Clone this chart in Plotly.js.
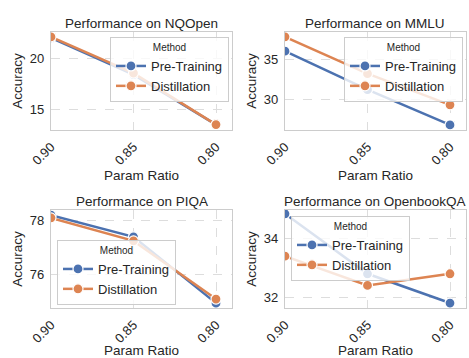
<!DOCTYPE html>
<html>
<head>
<meta charset="utf-8">
<script src="https://cdn.plot.ly/plotly-3.0.1.min.js"></script>
<style>html,body{margin:0;padding:0;background:#fff;}#chart{width:469px;height:358px;}</style>
</head>
<body>
<div id="chart"></div>
<script>
const ratios = [0.90, 0.85, 0.80];
const tickLabels = ["0.90", "0.85", "0.80"];
const methods = ["Pre-Training", "Distillation"];
const tasks = ["NQOpen", "MMLU", "PIQA", "OpenbookQA"];
const nqPre = [22.0, 18.4, 13.5];
const nqDist = [22.1, 18.55, 13.5];
const mmluPre = [36.0, 31.2, 26.8];
const mmluDist = [37.8, 33.2, 29.3];
const piqaPre = [78.2, 77.4, 74.95];
const piqaDist = [78.1, 77.25, 75.1];
const obqaPre = [34.85, 32.8, 31.8];
const obqaDist = [33.4, 32.4, 32.8];

const colors = ["#4C72B0", "#DD8452"];
const series = [[nqPre, nqDist], [mmluPre, mmluDist], [piqaPre, piqaDist], [obqaPre, obqaDist]];
const yRanges = [[12.97, 22.58], [26.16, 38.4], [74.77, 78.39], [31.63, 34.98]];
const yDtick = [5, 5, 2, 2];
const legendPos = [
  {x: 229/469, y: 1 - 37/358, xanchor: "right", yanchor: "top"},
  {x: 463/469, y: 1 - 37/358, xanchor: "right", yanchor: "top"},
  {x: 57/469, y: 1 - 240/358, xanchor: "left", yanchor: "top"},
  {x: 291/469, y: 1 - 216/358, xanchor: "left", yanchor: "top"}
];
const xDom = [[51/469, 232/469], [285/469, 466/469]];
const yDom = [[(358-130)/358, (358-32)/358], [(358-308)/358, (358-210)/358]];
const txt = "#262626";
const font = "Liberation Sans, Arial, sans-serif";

const data = [];
const layout = {
  width: 469, height: 358,
  margin: {l: 0, r: 0, t: 0, b: 0},
  paper_bgcolor: "#fff", plot_bgcolor: "#fff",
  font: {family: font, color: txt, size: 13},
  annotations: []
};

series.forEach((s, i) => {
  const ax = i === 0 ? "" : String(i + 1);
  const leg = i === 0 ? "legend" : "legend" + (i + 1);
  s.forEach((vals, j) => {
    data.push({
      type: "scatter", mode: "lines+markers",
      x: ratios, y: vals, name: methods[j],
      xaxis: "x" + ax, yaxis: "y" + ax, legend: leg,
      line: {color: colors[j], width: 2.5},
      marker: {color: colors[j], size: 10, line: {color: "#fff", width: 1.2}},
      cliponaxis: true
    });
  });
  const col = i % 2, row = Math.floor(i / 2);
  const axisCommon = {
    showline: true, mirror: true, linecolor: "#cccccc", linewidth: 1.2,
    showgrid: true, gridcolor: "#dddddd", griddash: "dash", gridwidth: 1,
    zeroline: false, ticks: "", tickfont: {size: 13, color: txt}
  };
  layout["xaxis" + ax] = Object.assign({}, axisCommon, {
    domain: xDom[col], anchor: "y" + ax,
    range: [0.90, 0.7903], tickvals: ratios, ticktext: tickLabels, tickangle: -45,
    ticklabelstandoff: 3,
    title: {text: "Param Ratio", font: {size: 13.5, color: txt}, standoff: 2}
  });
  layout["yaxis" + ax] = Object.assign({}, axisCommon, {
    domain: yDom[row], anchor: "x" + ax,
    range: yRanges[i], dtick: yDtick[i], tick0: 0,
    ticklabelstandoff: 3,
    title: {text: "Accuracy", font: {size: 13.5, color: txt}, standoff: 4}
  });
  layout[leg] = Object.assign({}, legendPos[i], {
    bgcolor: "rgba(255,255,255,0.8)", bordercolor: "#cccccc", borderwidth: 1,
    font: {size: 13, color: txt},
    title: {text: "Method", font: {size: 10, color: txt}, side: "top center"},
    tracegroupgap: 0, itemwidth: 30
  });
  layout.annotations.push({
    text: "Performance on " + tasks[i], xref: "paper", yref: "paper",
    x: (xDom[col][0] + xDom[col][1]) / 2, y: row === 0 ? 1 - 23/358 : 1 - 201/358,
    xanchor: "center", yanchor: "middle", showarrow: false,
    font: {size: 13.5, color: txt}
  });
});

Plotly.newPlot("chart", data, layout, {displayModeBar: false, staticPlot: true});
</script>
</body>
</html>
